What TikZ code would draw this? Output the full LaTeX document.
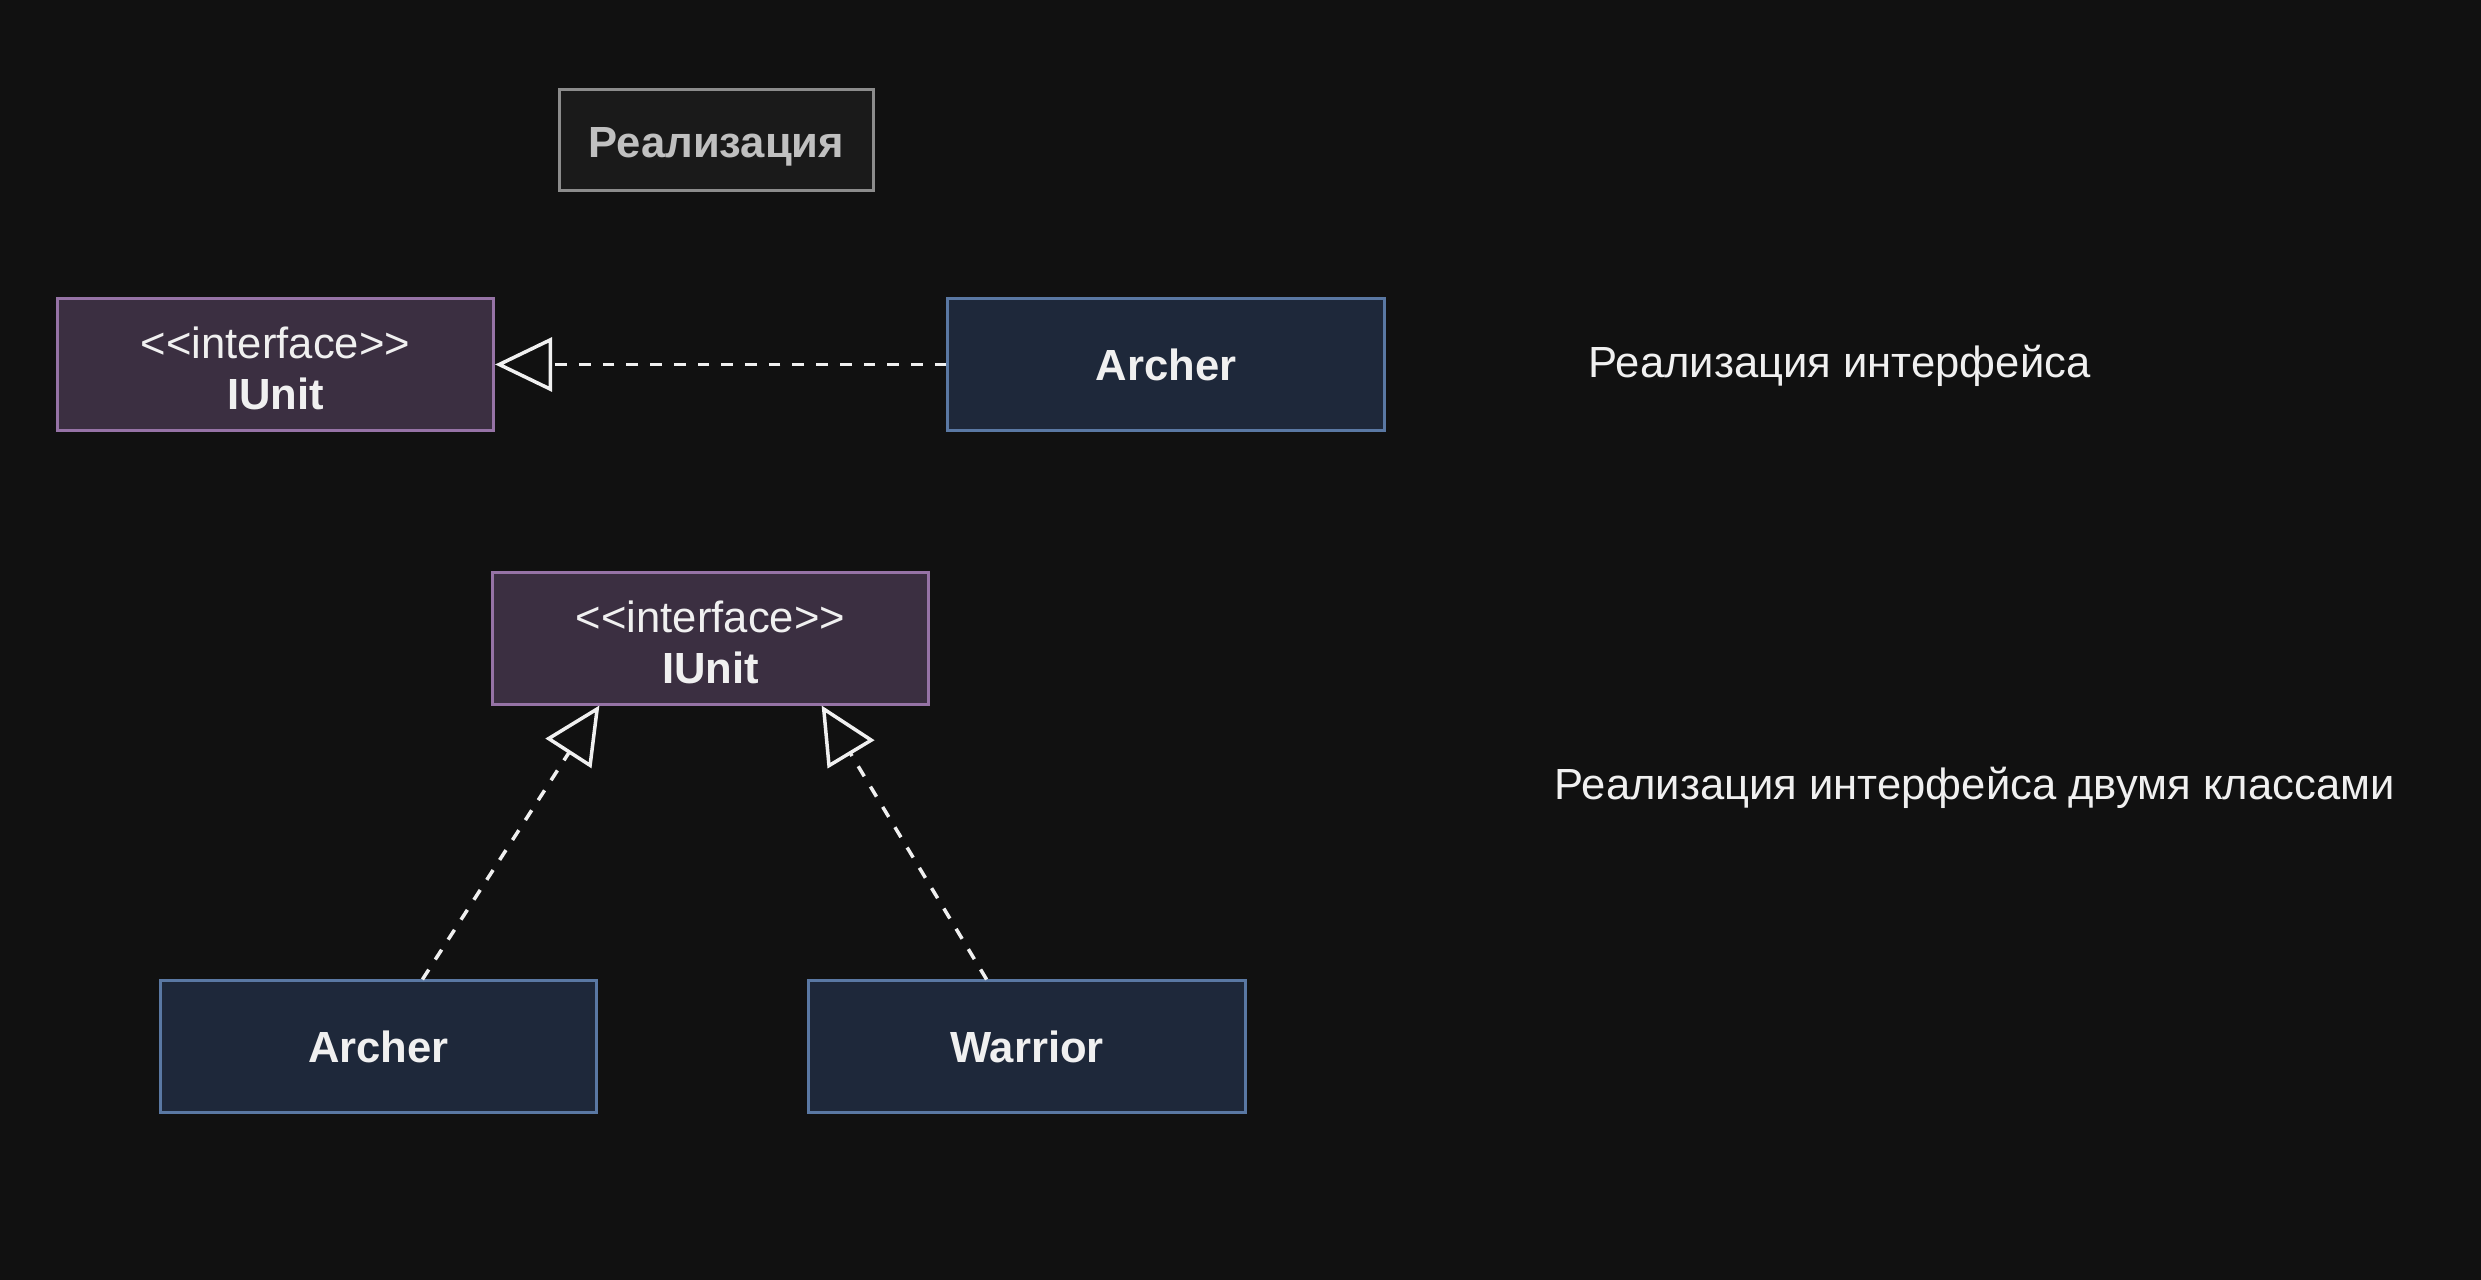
\documentclass[tikz,border=0pt]{standalone}
\usepackage{fontspec}
\setmainfont[Ligatures=NoCommon]{Liberation Sans}
\usetikzlibrary{arrows.meta,calc}
\definecolor{bg}{HTML}{111111}
\definecolor{ifill}{HTML}{3B2F41}
\definecolor{idraw}{HTML}{9673A6}
\definecolor{cfill}{HTML}{1E283A}
\definecolor{cdraw}{HTML}{5A78A3}
\definecolor{tfill}{HTML}{1A1A1A}
\definecolor{tdraw}{HTML}{8C8C8C}
\definecolor{ttext}{HTML}{C0C0C0}
\definecolor{fg}{HTML}{F0F0F0}
\tikzset{
  base/.style={rectangle, line width=0.03cm, minimum width=4.36cm, minimum height=1.31cm, inner sep=0pt, text=fg, font=\fontsize{12.4}{14.4}\selectfont},
  ifacebox/.style={base, fill=ifill, draw=idraw, text height=0.2cm, text depth=0.32cm},
  classbox/.style={base, fill=cfill, draw=cdraw, font=\fontsize{12.4}{14.4}\selectfont\bfseries, text height=0.33cm, text depth=0.01cm},
  titlebox/.style={rectangle, line width=0.03cm, minimum width=3.13cm, minimum height=1.0cm, inner sep=0pt, fill=tfill, draw=tdraw, text=ttext, font=\fontsize{12.4}{14.4}\selectfont\bfseries, text height=0.40cm, text depth=0.04cm},
  plain/.style={text=fg, font=\fontsize{12.4}{14.4}\selectfont, inner sep=0pt, anchor=west},
  realize/.style={draw=fg, line width=0.035cm, dash pattern=on 0.117cm off 0.12cm,
    -{Triangle[open, length=0.57cm, width=0.54cm, fill=bg, line width=0.035cm]}},
}
\newcommand{\ifacelines}{\vtop{\baselineskip=0.51cm\lineskiplimit=-10pt\halign{\hfil##\hfil\cr <{}<interface>{}>\cr \textbf{IUnit}\cr}}}
\begin{document}
\begin{tikzpicture}[x=0.01cm, y=-0.01cm]
\fill[bg] (0,0) rectangle (2481,1280);
\useasboundingbox (0,0) rectangle (2481,1280);

\node[titlebox] (title) at (716.5,140) {Реализация};

\node[ifacebox] (iunit1) at (275.5,364.5) {\ifacelines};
\node[classbox] (archer1) at (1166,364.5) {Archer};
\node[plain] (lab1) at (1588,366) {Реализация интерфейса};

\node[ifacebox] (iunit2) at (710.5,638.5) {\ifacelines};
\node[classbox] (archer2) at (378.5,1046.5) {Archer};
\node[classbox] (warrior) at (1027,1046.5) {Warrior};
\node[plain] (lab2) at (1554,788) {Реализация интерфейса двумя классами};

\draw[realize] (archer1.west) -- (iunit1.east);
\draw[realize] ($(archer2.north west)!0.6!(archer2.north east)$) -- ($(iunit2.south west)!0.247!(iunit2.south east)$);
\draw[realize] ($(warrior.north west)!0.408!(warrior.north east)$) -- ($(iunit2.south west)!0.753!(iunit2.south east)$);
\end{tikzpicture}
\end{document}
